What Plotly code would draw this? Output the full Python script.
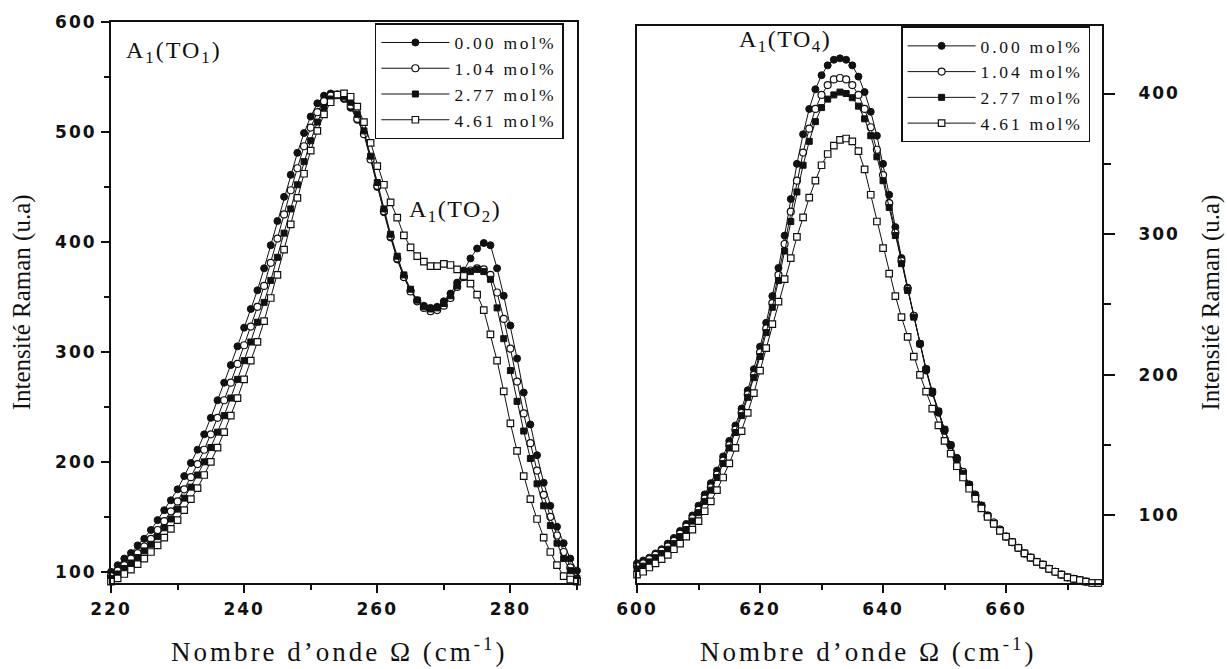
import plotly.graph_objects as go

# ---------------- data ----------------
wn_left = list(range(220, 291))
wn_right = list(range(600, 676))

labels = ["0.00 mol%", "1.04 mol%", "2.77 mol%", "4.61 mol%"]

left_000 = [100, 106, 112, 117, 124, 130, 138, 147, 156, 165,
            175, 187, 199, 211, 225, 240, 256, 272, 288, 305,
            322, 339, 356, 376, 397, 419, 441, 461, 481, 499,
            514, 526, 533, 535, 534, 530, 522, 511, 499, 476,
            450, 427, 404, 384, 368, 356, 347, 342, 340, 341,
            346, 353, 363, 374, 385, 394, 399, 397, 376, 351,
            324, 294, 263, 234, 206, 181, 160, 141, 126, 112,
            101]
left_104 = [96, 101, 106, 112, 117, 123, 130, 138, 146, 155,
            164, 175, 186, 198, 211, 225, 240, 256, 272, 289,
            306, 323, 341, 360, 381, 403, 425, 447, 467, 487,
            504, 518, 528, 533, 534, 531, 524, 512, 498, 475,
            451, 428, 405, 385, 368, 355, 346, 340, 337, 338,
            342, 349, 359, 368, 374, 376, 375, 370, 354, 330,
            303, 273, 244, 217, 192, 170, 150, 133, 118, 104,
            93]
left_277 = [94, 98, 103, 108, 113, 119, 125, 132, 140, 148,
            157, 167, 177, 188, 200, 213, 227, 242, 258, 275,
            292, 309, 327, 345, 365, 386, 408, 430, 452, 473,
            492, 509, 522, 530, 533, 532, 527, 516, 501, 478,
            454, 430, 407, 387, 370, 357, 347, 341, 339, 340,
            344, 351, 360, 368, 373, 375, 373, 366, 340, 312,
            283, 255, 228, 203, 180, 160, 142, 126, 112, 101,
            94]
left_461 = [91, 94, 98, 102, 107, 112, 118, 124, 131, 139,
            147, 156, 166, 176, 188, 200, 213, 227, 242, 258,
            275, 292, 309, 328, 349, 370, 393, 416, 440, 462,
            483, 501, 516, 527, 534, 535, 532, 523, 509, 490,
            469, 452, 436, 422, 406, 395, 387, 382, 378, 378,
            380, 379, 375, 369, 362, 352, 338, 316, 292, 264,
            235, 210, 187, 166, 148, 131, 118, 106, 96, 93,
            91]

right_000 = [66, 68, 70, 73, 76, 80, 84, 89, 94, 100,
             107, 115, 123, 132, 142, 153, 164, 176, 189, 204,
             220, 237, 256, 276, 299, 325, 350, 371, 389, 403,
             413, 420, 424, 425, 424, 420, 412, 401, 387, 370,
             350, 328, 305, 283, 262, 242, 222, 203, 187, 173,
             160, 150, 141, 131, 122, 115, 107, 100, 95, 90,
             85, 81, 77, 73, 70, 67, 65, 62, 60, 58,
             56, 55, 54, 53, 52, 52]
right_104 = [64, 66, 69, 72, 75, 78, 82, 87, 92, 98,
             104, 112, 120, 129, 139, 150, 161, 173, 186, 200,
             216, 233, 251, 271, 293, 316, 338, 358, 375, 389,
             399, 406, 410, 411, 410, 406, 399, 389, 376, 360,
             342, 322, 301, 281, 261, 242, 222, 204, 188, 174,
             161, 150, 140, 131, 122, 114, 107, 100, 95, 90,
             85, 81, 77, 73, 70, 67, 65, 62, 60, 58,
             56, 55, 54, 53, 52, 52]
right_277 = [62, 64, 67, 70, 73, 76, 80, 85, 90, 96,
             102, 110, 118, 127, 137, 148, 159, 171, 184, 198,
             213, 230, 248, 267, 288, 309, 330, 349, 366, 380,
             390, 396, 399, 401, 400, 397, 391, 382, 370, 355,
             338, 319, 299, 279, 260, 241, 222, 204, 188, 174,
             161, 150, 140, 130, 122, 114, 107, 100, 94, 89,
             85, 81, 77, 73, 70, 67, 65, 62, 60, 58,
             56, 55, 54, 53, 52, 52]
right_461 = [58, 60, 63, 66, 69, 72, 76, 80, 85, 90,
             96, 103, 110, 118, 127, 137, 148, 160, 173, 187,
             203, 219, 236, 252, 268, 283, 298, 312, 326, 338,
             349, 357, 363, 367, 368, 366, 359, 346, 328, 309,
             290, 272, 256, 241, 227, 213, 200, 188, 176, 164,
             153, 144, 135, 127, 119, 112, 105, 99, 94, 89,
             85, 81, 77, 73, 70, 67, 65, 62, 60, 58,
             56, 55, 54, 53, 52, 52]

left_xticks = [220, 240, 260, 280]
left_yticks = [100, 200, 300, 400, 500, 600]
right_xticks = [600, 620, 640, 660]
right_yticks = [100, 200, 300, 400]

left_series = [left_000, left_104, left_277, left_461]
right_series = [right_000, right_104, right_277, right_461]

# ---------------- styles ----------------
INK = "#111111"
marker_styles = [
    dict(symbol="circle", size=7, color=INK, line=dict(color=INK, width=1)),
    dict(symbol="circle", size=7, color="white", line=dict(color=INK, width=1.2)),
    dict(symbol="square", size=6, color=INK, line=dict(color=INK, width=1)),
    dict(symbol="square", size=6.5, color="white", line=dict(color=INK, width=1.2)),
]
serif = "Liberation Serif, Times New Roman, serif"
sans = "DejaVu Sans"


def spaced(txt, sp=2.0):
    return f'<span style="letter-spacing:{sp}px">{txt}</span>'


def tick_texts(vals):
    return [spaced(str(v), 2) for v in vals]


fig = go.Figure()
for i, (lab, ys) in enumerate(zip(labels, left_series)):
    fig.add_trace(go.Scatter(
        x=wn_left, y=ys, mode="lines+markers", name=spaced(lab, 2.8),
        line=dict(color=INK, width=1), marker=marker_styles[i],
        xaxis="x", yaxis="y", legend="legend", cliponaxis=False))
for i, (lab, ys) in enumerate(zip(labels, right_series)):
    fig.add_trace(go.Scatter(
        x=wn_right, y=ys, mode="lines+markers", name=spaced(lab, 2.8),
        line=dict(color=INK, width=1), marker=marker_styles[i],
        xaxis="x2", yaxis="y2", legend="legend2", cliponaxis=False))

axis_common = dict(
    showline=True, linecolor=INK, linewidth=2, mirror=True,
    ticks="outside", tickwidth=2, tickcolor=INK,
    showgrid=False, zeroline=False,
    tickfont=dict(family=sans, size=17, color=INK, weight="bold"),
)


def minor(dt, t0, ln=5):
    return dict(ticks="outside", ticklen=ln, tickwidth=1.5, tickcolor=INK, dtick=dt, tick0=t0)


legend_common = dict(
    bgcolor="white", bordercolor=INK, borderwidth=1.5,
    font=dict(family=serif, size=17.5, color=INK),
    tracegroupgap=0, itemwidth=68, yanchor="top", xanchor="right",
)

fig.update_layout(
    width=1227, height=669,
    margin=dict(l=111, r=125, t=18, b=86),
    paper_bgcolor="white", plot_bgcolor="white",
    showlegend=True,
    xaxis=dict(domain=[0, 0.4702], range=[220, 290], anchor="y", ticklen=8,
               tickmode="array", tickvals=left_xticks, ticktext=tick_texts(left_xticks),
               ticklabelstandoff=2, minor=minor(10, 220), **axis_common),
    yaxis=dict(domain=[0, 1], range=[89.8, 600], anchor="x", ticklen=8,
               tickmode="array", tickvals=left_yticks, ticktext=tick_texts(left_yticks),
               ticklabelstandoff=1, minor=minor(50, 100), **axis_common),
    xaxis2=dict(domain=[0.5308, 1], range=[600, 675.6], anchor="y2", ticklen=8,
                tickmode="array", tickvals=right_xticks, ticktext=tick_texts(right_xticks),
                ticklabelstandoff=2, minor=minor(10, 600), **axis_common),
    yaxis2=dict(domain=[0, 0.9929], range=[52, 448], anchor="x2", side="right", ticklen=11,
                tickmode="array", tickvals=right_yticks, ticktext=tick_texts(right_yticks),
                ticklabelstandoff=20, minor=minor(50, 100, 7), **axis_common),
    legend=dict(x=0.457, y=0.998, **legend_common),
    legend2=dict(x=0.988, y=0.992, **legend_common),
)

ann_font = dict(family=serif, size=24, color=INK)
title_font = dict(family=serif, size=27, color=INK)
xtitle = spaced("Nombre d’onde Ω (cm<sup>-1</sup>)", 3)
fig.add_annotation(text=xtitle, xref="paper", yref="paper", x=0.231, y=-0.119,
                   xanchor="center", yanchor="middle", showarrow=False, font=title_font)
fig.add_annotation(text=xtitle, xref="paper", yref="paper", x=0.764, y=-0.119,
                   xanchor="center", yanchor="middle", showarrow=False, font=title_font)
ytitle = "Intensité Raman (u.a)"
fig.add_annotation(text=ytitle, xref="paper", yref="paper", x=-0.090, y=0.5,
                   xanchor="center", yanchor="middle", textangle=-90,
                   showarrow=False, font=dict(family=serif, size=25, color=INK))
fig.add_annotation(text=ytitle, xref="paper", yref="paper", x=1.109, y=0.5,
                   xanchor="center", yanchor="middle", textangle=-90,
                   showarrow=False, font=dict(family=serif, size=25, color=INK))

fig.add_annotation(text=spaced("A<sub>1</sub>(TO<sub>1</sub>)", 2), xref="x", yref="y",
                   x=222.0, y=573, xanchor="left", yanchor="middle",
                   showarrow=False, font=ann_font)
fig.add_annotation(text=spaced("A<sub>1</sub>(TO<sub>2</sub>)", 1.5), xref="x", yref="y",
                   x=264.5, y=428, xanchor="left", yanchor="middle",
                   showarrow=False, font=ann_font)
fig.add_annotation(text=spaced("A<sub>1</sub>(TO<sub>4</sub>)", 1.5), xref="x2", yref="y2",
                   x=616.2, y=437, xanchor="left", yanchor="middle",
                   showarrow=False, font=ann_font)

fig.write_html("out.html", config={"displayModeBar": False},
               post_script="document.body.style.margin='0px';")
